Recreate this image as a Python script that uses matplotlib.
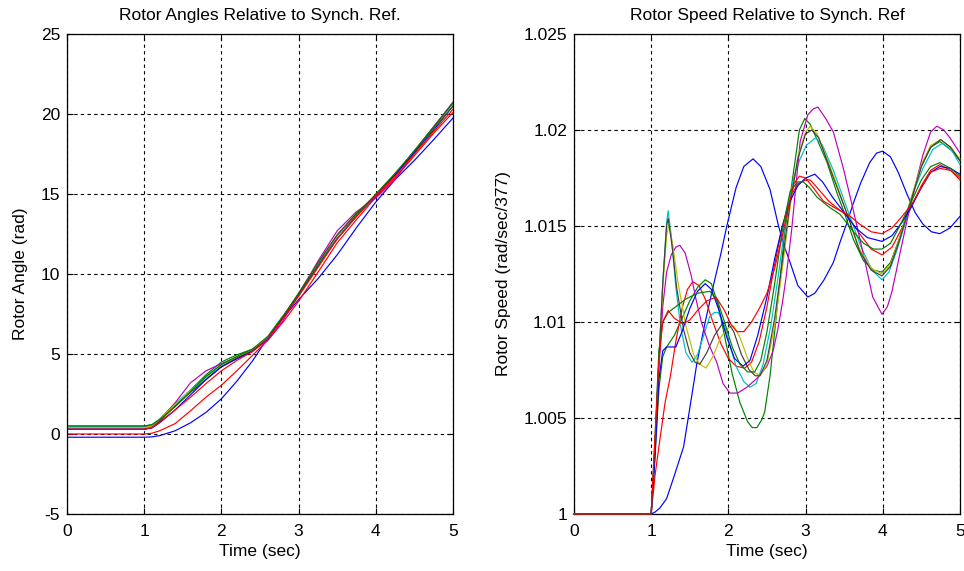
import matplotlib
matplotlib.use('Agg')
import matplotlib.pyplot as plt

plt.rcParams['font.family'] = ['Liberation Sans', 'DejaVu Sans']
plt.rcParams['axes.unicode_minus'] = False

# matlab-ish colours
C_B = '#0000ff'
C_G = '#008000'
C_R = '#ff0000'
C_C = '#00bfbf'
C_M = '#bf00bf'
C_Y = '#bfbf00'
C_K = '#404040'

# ---- rotor speed curves (t, speed in pu) ----
spd_blue_slow = [(0, 1.0), (1.0, 1.0), (1.05, 1.0001), (1.11, 1.0003), (1.2, 1.0008), (1.3, 1.002),
                 (1.42, 1.0035), (1.5, 1.0055), (1.59, 1.0078), (1.7, 1.0100), (1.8, 1.0118), (1.9, 1.0135),
                 (1.98, 1.0150), (2.1, 1.0170), (2.2, 1.0181), (2.32, 1.0185), (2.42, 1.0181), (2.54, 1.0169),
                 (2.65, 1.0150), (2.72, 1.0140), (2.80, 1.0131), (2.9, 1.0119), (3.03, 1.0113), (3.12, 1.0115),
                 (3.24, 1.0122), (3.36, 1.0131), (3.45, 1.0142), (3.53, 1.0151), (3.62, 1.0162), (3.71, 1.0172),
                 (3.83, 1.0183), (3.92, 1.0188), (4.0, 1.0189), (4.1, 1.0186), (4.2, 1.0178), (4.31, 1.0167),
                 (4.42, 1.0157), (4.52, 1.0151), (4.63, 1.0147), (4.74, 1.0146), (4.87, 1.0149), (5.0, 1.0155)]
spd_green_deep = [(0, 1.0), (1.0, 1.0), (1.05, 1.003), (1.1, 1.0065), (1.15, 1.0082), (1.2, 1.0087), (1.3, 1.0093),
                  (1.4, 1.0102), (1.5, 1.0111), (1.6, 1.0118), (1.7, 1.0122), (1.78, 1.0120), (1.86, 1.0110),
                  (1.95, 1.0093), (2.05, 1.0073), (2.15, 1.0058), (2.25, 1.0048), (2.31, 1.0045), (2.37, 1.0045),
                  (2.43, 1.0049), (2.47, 1.0053), (2.54, 1.0072), (2.60, 1.0095), (2.67, 1.0122), (2.73, 1.0147),
                  (2.79, 1.0163), (2.84, 1.0177), (2.92, 1.0200), (2.99, 1.0206), (3.06, 1.0203), (3.15, 1.0195),
                  (3.28, 1.0183), (3.4, 1.0168), (3.51, 1.0156), (3.62, 1.0143), (3.75, 1.0132), (3.88, 1.0127),
                  (3.99, 1.0126), (4.1, 1.0131), (4.22, 1.0144), (4.35, 1.0162), (4.5, 1.0181), (4.62, 1.0191),
                  (4.74, 1.0194), (4.88, 1.0190), (5.0, 1.0184)]
spd_red_b = [(0, 1.0), (1.0, 1.0), (1.05, 1.002), (1.1, 1.0035), (1.18, 1.0058), (1.25, 1.0072), (1.32, 1.0090),
             (1.4, 1.0107), (1.47, 1.0117), (1.54, 1.0121), (1.62, 1.0119), (1.7, 1.0112), (1.8, 1.0100),
             (1.9, 1.0089), (2.0, 1.0081), (2.1, 1.0077), (2.21, 1.0076), (2.3, 1.0079), (2.4, 1.0090),
             (2.5, 1.0108), (2.6, 1.0130), (2.7, 1.0150), (2.8, 1.0165), (2.9, 1.0172), (3.0, 1.0174),
             (3.06, 1.0174), (3.15, 1.0170), (3.3, 1.0163), (3.45, 1.0158), (3.55, 1.0155), (3.7, 1.0146),
             (3.85, 1.0138), (3.99, 1.0135), (4.12, 1.0139), (4.25, 1.0149), (4.37, 1.0160), (4.5, 1.0171),
             (4.62, 1.0179), (4.74, 1.0182), (4.88, 1.0179), (5.0, 1.0174)]
spd_cyan = [(0, 1.0), (1.0, 1.0), (1.05, 1.0035), (1.1, 1.008), (1.15, 1.012), (1.2, 1.0152), (1.22, 1.0158),
            (1.26, 1.0145), (1.32, 1.0118), (1.38, 1.0098), (1.45, 1.0084), (1.53, 1.0079), (1.6, 1.0083),
            (1.68, 1.0093), (1.76, 1.0103), (1.82, 1.0105), (1.87, 1.0105), (1.95, 1.0098), (2.02, 1.0088),
            (2.1, 1.0077), (2.2, 1.0069), (2.28, 1.0066), (2.36, 1.0068), (2.45, 1.0078), (2.55, 1.0098),
            (2.65, 1.0125), (2.75, 1.0155), (2.85, 1.0176), (2.93, 1.0185), (3.01, 1.0192), (3.13, 1.0196),
            (3.22, 1.0192), (3.36, 1.0179), (3.53, 1.0160), (3.71, 1.0140), (3.86, 1.0127), (3.99, 1.0122),
            (4.08, 1.0126), (4.18, 1.0137), (4.31, 1.0154), (4.42, 1.0170), (4.52, 1.0180), (4.65, 1.0190),
            (4.77, 1.0193), (4.9, 1.0189), (5.0, 1.0182)]
spd_magenta = [(0, 1.0), (1.0, 1.0), (1.05, 1.0035), (1.1, 1.0075), (1.15, 1.0108), (1.2, 1.0126), (1.26, 1.0135),
               (1.32, 1.0139), (1.37, 1.0140), (1.44, 1.0136), (1.52, 1.0124), (1.58, 1.0112), (1.65, 1.0100),
               (1.75, 1.0088), (1.85, 1.0079), (1.93, 1.0068), (2.02, 1.0063), (2.12, 1.0063), (2.24, 1.0066),
               (2.38, 1.0071), (2.5, 1.0077), (2.58, 1.0085), (2.64, 1.0096), (2.7, 1.0110), (2.75, 1.0124),
               (2.82, 1.0148), (2.93, 1.0194), (3.03, 1.0208), (3.1, 1.0211), (3.16, 1.0212), (3.26, 1.0206),
               (3.36, 1.0199), (3.49, 1.0180), (3.62, 1.0158), (3.75, 1.0135), (3.87, 1.0113), (3.99, 1.0104),
               (4.06, 1.0108), (4.12, 1.0116), (4.24, 1.0139), (4.37, 1.0163), (4.52, 1.0187), (4.62, 1.0199),
               (4.70, 1.0202), (4.79, 1.0200), (4.87, 1.0196), (5.0, 1.0188)]
spd_yellow = [(0, 1.0), (1.0, 1.0), (1.05, 1.0035), (1.1, 1.008), (1.15, 1.0118), (1.2, 1.0145), (1.23, 1.0151),
              (1.28, 1.0140), (1.35, 1.0120), (1.45, 1.0098), (1.55, 1.0083), (1.63, 1.0078), (1.71, 1.0076),
              (1.8, 1.0082), (1.9, 1.0092), (2.0, 1.0097), (2.07, 1.0098), (2.15, 1.0092), (2.25, 1.0081),
              (2.33, 1.0074), (2.41, 1.0072), (2.5, 1.0078), (2.6, 1.0098), (2.7, 1.0128), (2.8, 1.0160),
              (2.9, 1.0186), (3.0, 1.0199), (3.06, 1.0202), (3.15, 1.0198), (3.25, 1.0188), (3.4, 1.0172),
              (3.55, 1.0155), (3.7, 1.0138), (3.85, 1.0128), (3.99, 1.0125), (4.1, 1.0130), (4.22, 1.0144),
              (4.35, 1.0162), (4.5, 1.0182), (4.62, 1.0192), (4.75, 1.0195), (4.88, 1.0191), (5.0, 1.0185)]
spd_gray = [(0, 1.0), (1.0, 1.0), (1.05, 1.0035), (1.1, 1.008), (1.15, 1.012), (1.2, 1.0150), (1.22, 1.0154),
            (1.27, 1.0140), (1.33, 1.0118), (1.42, 1.0096), (1.5, 1.0084), (1.57, 1.0079), (1.63, 1.0078),
            (1.72, 1.0084), (1.82, 1.0093), (1.92, 1.0099), (1.99, 1.0100), (2.07, 1.0095), (2.17, 1.0083),
            (2.27, 1.0075), (2.35, 1.0072), (2.41, 1.0072), (2.5, 1.0080), (2.6, 1.0102), (2.7, 1.0132),
            (2.8, 1.0162), (2.9, 1.0185), (3.0, 1.0198), (3.08, 1.0200), (3.17, 1.0196), (3.27, 1.0185),
            (3.4, 1.0171), (3.55, 1.0155), (3.7, 1.0137), (3.85, 1.0127), (3.99, 1.0124), (4.1, 1.0129),
            (4.22, 1.0143), (4.35, 1.0161), (4.5, 1.0181), (4.62, 1.0191), (4.75, 1.0195), (4.88, 1.0191),
            (5.0, 1.0184)]
spd_blue_b = [(0, 1.0), (1.0, 1.0), (1.05, 1.003), (1.1, 1.007), (1.15, 1.0085), (1.2, 1.0087), (1.32, 1.0087),
              (1.4, 1.0095), (1.5, 1.0107), (1.6, 1.0116), (1.7, 1.0120), (1.78, 1.0117), (1.88, 1.0106),
              (1.98, 1.0092), (2.08, 1.0081), (2.19, 1.0077), (2.28, 1.0080), (2.38, 1.0093), (2.5, 1.0113),
              (2.6, 1.0133), (2.7, 1.0150), (2.8, 1.0163), (2.9, 1.0171), (3.0, 1.0175), (3.12, 1.0177),
              (3.22, 1.0173), (3.35, 1.0165), (3.5, 1.0157), (3.65, 1.0149), (3.8, 1.0144), (3.99, 1.0142),
              (4.12, 1.0145), (4.25, 1.0152), (4.37, 1.0160), (4.5, 1.0170), (4.62, 1.0178), (4.74, 1.0181),
              (4.88, 1.0180), (5.0, 1.0177)]
spd_green_b = [(0, 1.0), (1.0, 1.0), (1.05, 1.004), (1.1, 1.0085), (1.15, 1.0100), (1.22, 1.0105), (1.32, 1.0108),
               (1.45, 1.0112), (1.6, 1.0115), (1.76, 1.0116), (1.86, 1.0111), (1.95, 1.0100), (2.05, 1.0087),
               (2.15, 1.0078), (2.25, 1.0074), (2.34, 1.0074), (2.42, 1.0080), (2.5, 1.0095), (2.6, 1.0120),
               (2.7, 1.0148), (2.8, 1.0168), (2.9, 1.0173), (2.97, 1.0173), (3.05, 1.0170), (3.15, 1.0165),
               (3.3, 1.0160), (3.45, 1.0156), (3.6, 1.0148), (3.75, 1.0141), (3.88, 1.0138), (3.99, 1.0138),
               (4.1, 1.0141), (4.22, 1.0150), (4.35, 1.0161), (4.5, 1.0174), (4.62, 1.0181), (4.74, 1.0183),
               (4.88, 1.0180), (5.0, 1.0176)]
spd_red_a = [(0, 1.0), (1.0, 1.0), (1.05, 1.004), (1.1, 1.008), (1.15, 1.0100), (1.22, 1.0106), (1.3, 1.0102),
             (1.41, 1.0099), (1.5, 1.0101), (1.6, 1.0106), (1.72, 1.0111), (1.84, 1.0113), (1.95, 1.0106),
             (2.03, 1.0099), (2.11, 1.0095), (2.2, 1.0095), (2.3, 1.0100), (2.4, 1.0107), (2.5, 1.0115),
             (2.6, 1.0128), (2.7, 1.0145), (2.78, 1.0160), (2.85, 1.0172), (2.92, 1.0176), (3.0, 1.0175),
             (3.1, 1.0170), (3.23, 1.0163), (3.4, 1.0159), (3.55, 1.0156), (3.7, 1.0151), (3.85, 1.0147),
             (3.99, 1.0146), (4.12, 1.0149), (4.25, 1.0155), (4.37, 1.0161), (4.5, 1.0170), (4.62, 1.0178),
             (4.74, 1.0180), (4.88, 1.0179), (5.0, 1.0175)]

# ---- rotor angle curves (rad), common time grid ----
ang_t = [0, 1.0, 1.1, 1.2, 1.4, 1.6, 1.8, 2.0, 2.2, 2.4, 2.6, 2.8, 3.0, 3.25, 3.5, 3.75, 4.0, 4.25, 4.5, 4.75, 5.0]
ang_blue_slow = [-0.2, -0.2, -0.18, -0.1, 0.2, 0.7, 1.35, 2.2, 3.3, 4.55, 6.0, 7.25, 8.4, 9.7, 11.2, 12.9, 14.5, 15.9, 17.1, 18.4, 19.75]
ang_green_deep = [0.5, 0.5, 0.58, 0.9, 1.75, 2.75, 3.7, 4.5, 4.95, 5.3, 5.9, 7.3, 8.75, 10.6, 12.4, 13.8, 14.95, 16.2, 17.7, 19.2, 20.75]
ang_red_b = [0.0, 0.0, 0.05, 0.2, 0.65, 1.45, 2.3, 3.05, 3.95, 4.9, 5.85, 7.0, 8.3, 10.1, 11.95, 13.4, 14.8, 16.0, 17.4, 18.8, 20.1]
ang_cyan = [0.45, 0.45, 0.55, 0.95, 1.9, 2.75, 3.55, 4.3, 4.8, 5.25, 6.0, 7.35, 8.75, 10.6, 12.4, 13.75, 14.9, 16.2, 17.7, 19.2, 20.7]
ang_magenta = [0.4, 0.4, 0.5, 0.85, 1.95, 3.2, 3.95, 4.4, 4.8, 5.2, 5.85, 7.1, 8.7, 10.8, 12.7, 13.9, 14.75, 15.9, 17.6, 19.2, 20.7]
ang_yellow = [0.4, 0.4, 0.5, 0.9, 1.85, 2.7, 3.45, 4.25, 4.8, 5.25, 5.95, 7.35, 8.8, 10.7, 12.45, 13.8, 14.9, 16.2, 17.7, 19.2, 20.7]
ang_gray = [0.3, 0.3, 0.4, 0.8, 1.75, 2.6, 3.4, 4.2, 4.75, 5.2, 5.95, 7.35, 8.8, 10.7, 12.45, 13.8, 14.9, 16.2, 17.7, 19.2, 20.7]
ang_blue_b = [0.3, 0.3, 0.38, 0.7, 1.5, 2.45, 3.4, 4.2, 4.7, 5.15, 5.95, 7.3, 8.7, 10.5, 12.2, 13.6, 14.9, 16.2, 17.6, 19.0, 20.5]
ang_green_b = [0.5, 0.5, 0.58, 0.9, 1.7, 2.65, 3.6, 4.35, 4.85, 5.3, 6.1, 7.4, 8.7, 10.5, 12.2, 13.7, 15.0, 16.3, 17.7, 19.1, 20.5]
ang_red_a = [0.3, 0.3, 0.4, 0.75, 1.5, 2.3, 3.15, 3.95, 4.6, 5.15, 5.95, 7.25, 8.6, 10.4, 12.2, 13.6, 14.9, 16.1, 17.5, 18.9, 20.3]

angle_curves = [(ang_blue_slow, C_B), (ang_green_deep, C_G), (ang_red_b, C_R), (ang_cyan, C_C),
                (ang_magenta, C_M), (ang_yellow, C_Y), (ang_gray, C_K), (ang_blue_b, C_B),
                (ang_green_b, C_G), (ang_red_a, C_R)]
speed_curves = [(spd_blue_slow, C_B), (spd_green_deep, C_G), (spd_red_b, C_R), (spd_cyan, C_C),
                (spd_magenta, C_M), (spd_yellow, C_Y), (spd_gray, C_K), (spd_blue_b, C_B),
                (spd_green_b, C_G), (spd_red_a, C_R)]

ang_yticks = [-5, 0, 5, 10, 15, 20, 25]
spd_yticks = [1.0, 1.005, 1.01, 1.015, 1.02, 1.025]
spd_ylabels = ['1', '1.005', '1.01', '1.015', '1.02', '1.025']
x_ticks = [0, 1, 2, 3, 4, 5]

FS = 12.5


def style_ax(ax):
    ax.grid(True, color='k', linestyle=(0, (3.0, 3.0)), linewidth=0.8)
    ax.tick_params(direction='in', length=4, width=0.8, top=True, right=True, labelsize=FS)
    ax.tick_params(axis='y', pad=5)
    ax.tick_params(axis='x', pad=7)
    for sp in ax.spines.values():
        sp.set_linewidth(0.9)
    ax.set_xlim(0, 5)
    ax.set_xticks(x_ticks)


fig = plt.figure(figsize=(9.64, 5.71), dpi=100)
ax1 = fig.add_axes([0.0695, 0.0998, 0.4004, 0.8406])
ax2 = fig.add_axes([0.5954, 0.0998, 0.4004, 0.8406])

for vals, col in angle_curves:
    ax1.plot(ang_t, vals, color=col, lw=0.85)
style_ax(ax1)
ax1.set_ylim(-5, 25)
ax1.set_yticks(ang_yticks)
ax1.set_title('Rotor Angles Relative to Synch. Ref.', fontsize=FS, pad=10)
ax1.set_xlabel('Time (sec)', fontsize=FS, labelpad=4)
ax1.set_ylabel('Rotor Angle (rad)', fontsize=FS, labelpad=9)

# speed lines sit over the bottom spine, like in the matlab figure
for pts, col in speed_curves:
    tt = [p[0] for p in pts]
    ww = [p[1] for p in pts]
    ax2.plot(tt, ww, color=col, lw=0.85, clip_on=False, zorder=3)
style_ax(ax2)
ax2.set_ylim(1.0, 1.025)
ax2.set_yticks(spd_yticks)
ax2.set_yticklabels(spd_ylabels)
ax2.set_title('Rotor Speed Relative to Synch. Ref', fontsize=FS, pad=10)
ax2.set_xlabel('Time (sec)', fontsize=FS, labelpad=4)
ax2.set_ylabel('Rotor Speed (rad/sec/377)', fontsize=FS, labelpad=9)

fig.savefig('out.png', dpi=100)
